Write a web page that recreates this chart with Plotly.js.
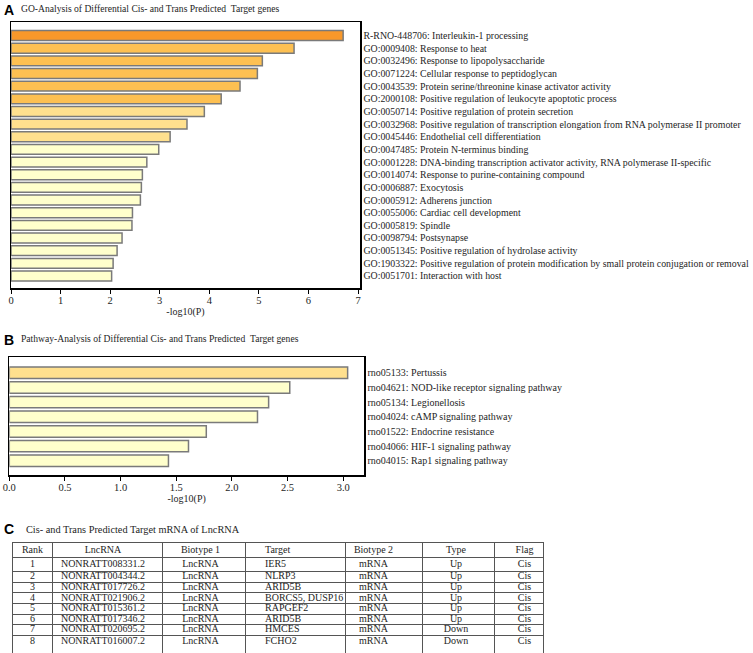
<!DOCTYPE html>
<html>
<head>
<meta charset="utf-8">
<script src="https://cdn.plot.ly/plotly-3.0.1.min.js"></script>
<style>html,body{margin:0;padding:0;background:#fff;}#chart{width:753px;height:653px;}</style>
</head>
<body>
<div id="chart"></div>
<script>
// ---------- DATA ----------
const goTerms = [
  "R-RNO-448706: Interleukin-1 processing",
  "GO:0009408: Response to heat",
  "GO:0032496: Response to lipopolysaccharide",
  "GO:0071224: Cellular response to peptidoglycan",
  "GO:0043539: Protein serine/threonine kinase activator activity",
  "GO:2000108: Positive regulation of leukocyte apoptotic process",
  "GO:0050714: Positive regulation of protein secretion",
  "GO:0032968: Positive regulation of transcription elongation from RNA polymerase II promoter",
  "GO:0045446: Endothelial cell differentiation",
  "GO:0047485: Protein N-terminus binding",
  "GO:0001228: DNA-binding transcription activator activity, RNA polymerase II-specific",
  "GO:0014074: Response to purine-containing compound",
  "GO:0006887: Exocytosis",
  "GO:0005912: Adherens junction",
  "GO:0055006: Cardiac cell development",
  "GO:0005819: Spindle",
  "GO:0098794: Postsynapse",
  "GO:0051345: Positive regulation of hydrolase activity",
  "GO:1903322: Positive regulation of protein modification by small protein conjugation or removal",
  "GO:0051701: Interaction with host"
];
const goValues = [6.70, 5.71, 5.07, 4.97, 4.62, 4.24, 3.90, 3.55, 3.21, 2.98,
                  2.74, 2.65, 2.63, 2.61, 2.45, 2.44, 2.24, 2.14, 2.06, 2.03];

const pathTerms = [
  "rno05133: Pertussis",
  "rno04621: NOD-like receptor signaling pathway",
  "rno05134: Legionellosis",
  "rno04024: cAMP signaling pathway",
  "rno01522: Endocrine resistance",
  "rno04066: HIF-1 signaling pathway",
  "rno04015: Rap1 signaling pathway"
];
const pathValues = [3.04, 2.52, 2.33, 2.23, 1.77, 1.61, 1.43];

const goTicks = [0, 1, 2, 3, 4, 5, 6, 7];
const goGrid = [2, 4, 6];
const pathTicks = [0, 0.5, 1.0, 1.5, 2.0, 2.5, 3.0];
const pathGrid = [2.0];

const tableHeader = ["Rank", "LncRNA", "Biotype 1", "Target", "Biotype 2", "Type", "Flag"];
const rank = ["1", "2", "3", "4", "5", "6", "7", "8"];
const lncRNA = ["NONRATT008331.2", "NONRATT004344.2", "NONRATT017726.2", "NONRATT021906.2",
                "NONRATT015361.2", "NONRATT017346.2", "NONRATT020695.2", "NONRATT016007.2"];
const biotype1 = ["LncRNA", "LncRNA", "LncRNA", "LncRNA", "LncRNA", "LncRNA", "LncRNA", "LncRNA"];
const target = ["IER5", "NLRP3", "ARID5B", "BORCS5, DUSP16", "RAPGEF2", "ARID5B", "HMCES", "FCHO2"];
const biotype2 = ["mRNA", "mRNA", "mRNA", "mRNA", "mRNA", "mRNA", "mRNA", "mRNA"];
const typeCol = ["Up", "Up", "Up", "Up", "Up", "Up", "Down", "Down"];
const flag = ["Cis", "Cis", "Cis", "Cis", "Cis", "Cis", "Cis", "Cis"];

// ---------- LAYOUT / STYLE ----------
const W = 753, H = 653;
const fx = p => p / W;
const fy = p => 1 - p / H;
const SERIF = '"Liberation Serif", "Times New Roman", Times, serif';
const SANS = '"Liberation Sans", Arial, sans-serif';
const TXT = "#1e1e1e";

function barColor(v) {
  if (v >= 6) return "#F8982A";
  if (v >= 4) return "#FDC052";
  if (v >= 3) return "#FFE08E";
  return "#FFFFCC";
}

// table geometry (pixels)
const colWidths = [39, 110, 83, 100, 77, 72, 49];
const rowHeights = [14, 14.4, 10.6, 10.6, 10.6, 10.6, 10.6, 10.6, 12];
const colAlign = ["center", "center", "center", "left", "center", "center", "center"];
const colTextOffset = [0, -4, -3, 20, -10, -2, 6]; // offset from column centre (or left edge when left-aligned)

const colEdges = [0];
colWidths.forEach(w => colEdges.push(colEdges[colEdges.length - 1] + w));
const rowEdges = [0];
rowHeights.forEach(h => rowEdges.push(rowEdges[rowEdges.length - 1] + h));
const tableW = colEdges[colEdges.length - 1];
const tableLeft = 13, tableTop = 543.3;
const tableH = H - tableTop;

const tableCols = [rank, lncRNA, biotype1, target, biotype2, typeCol, flag];
const cellX = [], cellY = [], cellText = [], cellPos = [];
tableCols.forEach((col, c) => {
  const xPos = colAlign[c] === "left" ? colEdges[c] + colTextOffset[c]
                                      : (colEdges[c] + colEdges[c + 1]) / 2 + colTextOffset[c];
  const pos = colAlign[c] === "left" ? "middle right" : "middle center";
  [tableHeader[c]].concat(col).forEach((v, r) => {
    cellX.push(xPos);
    cellY.push((rowEdges[r] + rowEdges[r + 1]) / 2);
    cellText.push(v);
    cellPos.push(pos);
  });
});

const traces = [
  {
    type: "bar", orientation: "h",
    x: goValues, y: goTerms,
    xaxis: "x", yaxis: "y",
    marker: { color: goValues.map(barColor), line: { color: "#7a7a7a", width: 1.5 } },
    hoverinfo: "x+y"
  },
  {
    type: "bar", orientation: "h",
    x: pathValues, y: pathTerms,
    xaxis: "x2", yaxis: "y2",
    marker: { color: pathValues.map(barColor), line: { color: "#7a7a7a", width: 1.5 } },
    hoverinfo: "x+y"
  },
  {
    type: "scatter", mode: "text",
    x: cellX, y: cellY, text: cellText, textposition: cellPos,
    xaxis: "x5", yaxis: "y5",
    textfont: { family: SERIF, size: 10, color: TXT },
    hoverinfo: "text", cliponaxis: false
  }
];

const axisBase = {
  showline: true, linecolor: "#000", linewidth: 1.5, mirror: true,
  zeroline: false, showgrid: false
};

const layout = {
  width: W, height: H,
  margin: { l: 0, r: 0, t: 0, b: 0 },
  paper_bgcolor: "#fff", plot_bgcolor: "#fff",
  showlegend: false,
  font: { family: SERIF, size: 10, color: TXT },
  bargap: 0.22,
  xaxis: Object.assign({}, axisBase, {
    domain: [fx(11), fx(360)], anchor: "y",
    range: [0, 7.04], tickmode: "array", tickvals: goTicks,
    ticks: "outside", ticklen: 4, tickcolor: "#000", tickwidth: 1,
    ticklabelstandoff: -2,
    tickfont: { family: SERIF, size: 10.5, color: TXT },
    title: { text: "-log10(P)", font: { family: SERIF, size: 10, color: TXT }, standoff: 3 }
  }),
  xaxis3: {
    overlaying: "x", anchor: "y", range: [0, 7.04],
    tickmode: "array", tickvals: goGrid, showgrid: true, gridcolor: "#c4c4c4", gridwidth: 2,
    showticklabels: false, ticks: "", showline: false, zeroline: false
  },
  yaxis: Object.assign({}, axisBase, {
    domain: [fy(288), fy(22)], anchor: "x",
    type: "category", range: [19.95, -1.07],
    side: "right", ticks: "", ticklabelstandoff: 0,
    tickfont: { family: SERIF, size: 9.85, color: TXT }
  }),
  xaxis2: Object.assign({}, axisBase, {
    domain: [fx(9.3), fx(364)], anchor: "y2",
    range: [0, 3.187], tickmode: "array", tickvals: pathTicks, tickformat: ".1f",
    ticks: "outside", ticklen: 4, tickcolor: "#000", tickwidth: 1,
    ticklabelstandoff: -2,
    tickfont: { family: SERIF, size: 10.5, color: TXT },
    title: { text: "-log10(P)", font: { family: SERIF, size: 10, color: TXT }, standoff: 3 }
  }),
  xaxis4: {
    overlaying: "x2", anchor: "y2", range: [0, 3.187],
    tickmode: "array", tickvals: pathGrid, showgrid: true, gridcolor: "#c4c4c4", gridwidth: 2,
    showticklabels: false, ticks: "", showline: false, zeroline: false
  },
  yaxis2: Object.assign({}, axisBase, {
    domain: [fy(475), fy(357.3)], anchor: "x2",
    type: "category", range: [6.97, -1.06],
    side: "right", ticks: "", ticklabelstandoff: 0,
    tickfont: { family: SERIF, size: 10, color: TXT }
  }),
  // table frame / cell borders
  xaxis5: {
    domain: [fx(tableLeft), fx(tableLeft + tableW)], anchor: "y5",
    range: [0, tableW], side: "top",
    showline: true, linecolor: "#555", linewidth: 1, mirror: false,
    tickmode: "array", tickvals: colEdges.slice(1, -1), showgrid: true, gridcolor: "#555", gridwidth: 1,
    showticklabels: false, ticks: "", zeroline: false, fixedrange: true
  },
  yaxis5: {
    domain: [0, fy(tableTop)], anchor: "x5",
    range: [tableH, 0],
    showline: true, linecolor: "#555", linewidth: 1, mirror: true,
    tickmode: "array", tickvals: rowEdges.slice(1, -1), showgrid: true, gridcolor: "#555", gridwidth: 1,
    showticklabels: false, ticks: "", zeroline: false, fixedrange: true
  },
  annotations: [
    { text: "<b>A</b>", xref: "paper", yref: "paper", x: fx(2), y: fy(10), xanchor: "left", yanchor: "middle",
      showarrow: false, font: { family: SANS, size: 14, color: "#000" } },
    { text: "GO-Analysis of Differential Cis- and Trans Predicted &nbsp;Target genes", xref: "paper", yref: "paper",
      x: fx(19), y: fy(9), xanchor: "left", yanchor: "middle", showarrow: false,
      font: { family: SERIF, size: 9.6, color: TXT } },
    { text: "<b>B</b>", xref: "paper", yref: "paper", x: fx(2), y: fy(340), xanchor: "left", yanchor: "middle",
      showarrow: false, font: { family: SANS, size: 14, color: "#000" } },
    { text: "Pathway-Analysis of Differential Cis- and Trans Predicted &nbsp;Target genes", xref: "paper", yref: "paper",
      x: fx(19), y: fy(338), xanchor: "left", yanchor: "middle", showarrow: false,
      font: { family: SERIF, size: 9.6, color: TXT } },
    { text: "<b>C</b>", xref: "paper", yref: "paper", x: fx(2), y: fy(529), xanchor: "left", yanchor: "middle",
      showarrow: false, font: { family: SANS, size: 14, color: "#000" } },
    { text: "Cis- and Trans Predicted Target mRNA of LncRNA", xref: "paper", yref: "paper",
      x: fx(24), y: fy(529), xanchor: "left", yanchor: "middle", showarrow: false,
      font: { family: SERIF, size: 10.3, color: TXT } }
  ]
};

Plotly.newPlot("chart", traces, layout, { displayModeBar: false, staticPlot: true });
</script>
</body>
</html>
